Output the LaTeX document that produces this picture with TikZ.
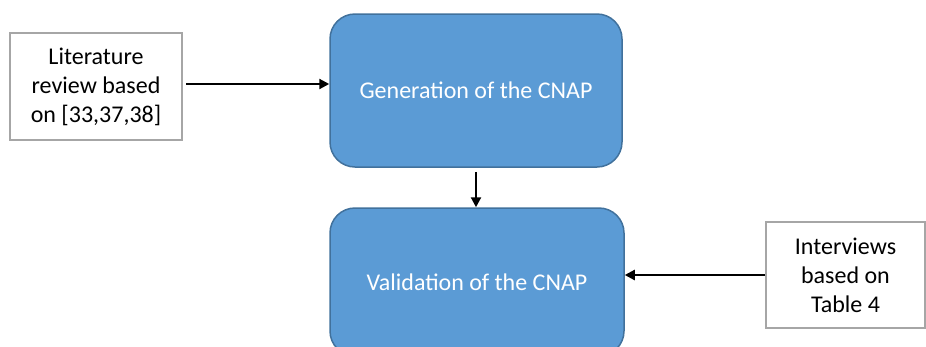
\documentclass[tikz,border=0pt]{standalone}
\usepackage{fontspec}
\setmainfont{Carlito}
\usetikzlibrary{arrows.meta}
\definecolor{bluefill}{HTML}{5B9BD5}
\definecolor{blueedge}{HTML}{41719C}
\definecolor{grayedge}{HTML}{A6A6A6}
\tikzset{
  srcbox/.style={draw=grayedge, line width=2pt, fill=white, align=center, inner sep=0pt,
    font=\fontsize{24}{29}\selectfont},
  procbox/.style={draw=blueedge, line width=1.5pt, fill=bluefill, rounded corners=25pt,
    text=white, align=center, inner sep=0pt, font=\fontsize{24}{29}\selectfont},
  conn/.style={line width=2.2pt, -{Triangle[length=10pt,width=10pt]}},
}
\begin{document}
\begin{tikzpicture}[x=1pt,y=-1pt]
\useasboundingbox (0,0) rectangle (926,346);
\clip (0,0) rectangle (926,346);
\node[procbox, minimum width=292pt, minimum height=153pt] (gen) at (476,90.5) {Generation of the CNAP};
\node[procbox, minimum width=294pt, minimum height=148pt] (val) at (477,282) {Validation of the CNAP};
\node[srcbox, minimum width=172pt, minimum height=107pt] (lit) at (96,86.5) {Literature\\review based\\on [33,37,38]};
\node[srcbox, minimum width=159pt, minimum height=106pt] (int) at (845.5,275) {Interviews\\based on\\Table 4};
\draw[conn] (lit.east |- 0,84) ++(3,0) coordinate (a1) -- (gen.west |- a1);
\draw[conn] (int.west |- 0,275) -- (val.east |- 0,275);
\draw[conn] (gen.south) ++(0,4) coordinate (d1) -- (val.north -| d1);
\end{tikzpicture}
\end{document}
